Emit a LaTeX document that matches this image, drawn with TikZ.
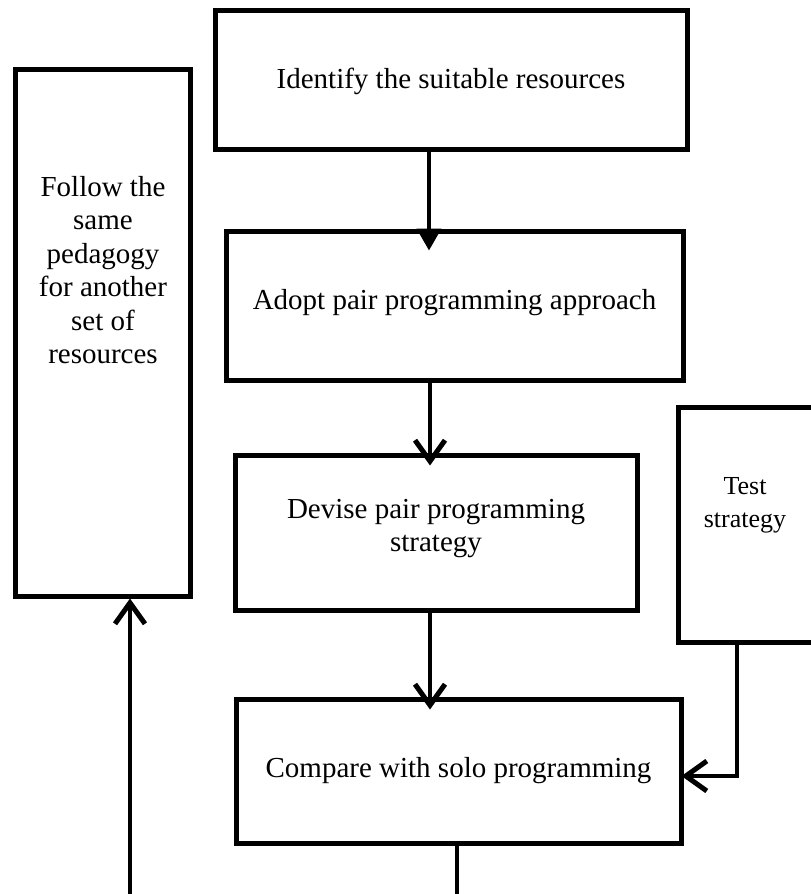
\documentclass[tikz,border=0pt]{standalone}
\usepackage{fontspec}
\setmainfont{Liberation Serif}
\usetikzlibrary{arrows.meta}
\begin{document}
\begin{tikzpicture}[x=1pt,y=-1pt,
  box/.style={draw,line width=5pt,inner sep=0pt,fill=white},
  lbl/.style={font=\fontsize{29}{33.5}\selectfont,align=center,inner sep=0pt},
  conn/.style={line width=4pt},
  filledhead/.style={-{Triangle[length=22pt,width=24pt]}},
  openhead/.style={-{Straight Barb[length=21pt,width=30pt,line width=5pt]}}
]
\useasboundingbox (0,0) rectangle (811,894);
\clip (0,0) rectangle (811,894);

% process boxes
\node[box,minimum width=472pt,minimum height=139pt] (ident) at (451,79.5) {};
\node[lbl] at ([yshift=-2pt]ident.center) {Identify the suitable resources};
\node[box,minimum width=457pt,minimum height=149pt] (adopt) at (454.5,305.5) {};
\node[lbl] at ([yshift=3pt]adopt.center) {Adopt pair programming approach};
\node[box,minimum width=402pt,minimum height=155pt] (devise) at (436,532.5) {};
\node[lbl] at ([yshift=4pt]devise.center) {Devise pair programming\\strategy};
\node[box,minimum width=445pt,minimum height=144pt] (compare) at (458.5,771) {};
\node[lbl] at (compare.center) {Compare with solo programming};

% side boxes
\node[box,minimum width=175pt,minimum height=527pt] (follow) at (102.5,332.5) {};
\node[lbl,anchor=north] (followtxt) at (103,176) {Follow the\\same\\pedagogy\\for another\\set of\\resources};
\node[box,minimum width=152pt,minimum height=235pt] (test) at (754,524.5) {};
\node[lbl,font=\fontsize{26}{33}\selectfont] (testtxt) at (745,505) {Test\\strategy};

% connectors (heads run a little into the box below)
\draw[conn,filledhead] (ident.south -| 429,0) -- ([yshift=-22pt]adopt.north -| 429,0);
\draw[conn,openhead] (adopt.south -| 430,0) -- ([yshift=-13pt]devise.north -| 430,0);
\draw[conn,openhead] (devise.south -| 430,0) -- ([yshift=-13pt]compare.north -| 430,0);
\coordinate (tcorner) at (737,776);
\draw[conn,openhead] (test.south -| tcorner) -- (tcorner) -- ([xshift=-2pt]compare.east |- tcorner);
\coordinate (cbottom) at (457,894);
\draw[conn] (compare.south -| cbottom) -- (cbottom);
\coordinate (fbottom) at (130,894);
\draw[conn,openhead] (fbottom) -- (follow.south -| fbottom);
\end{tikzpicture}
\end{document}
